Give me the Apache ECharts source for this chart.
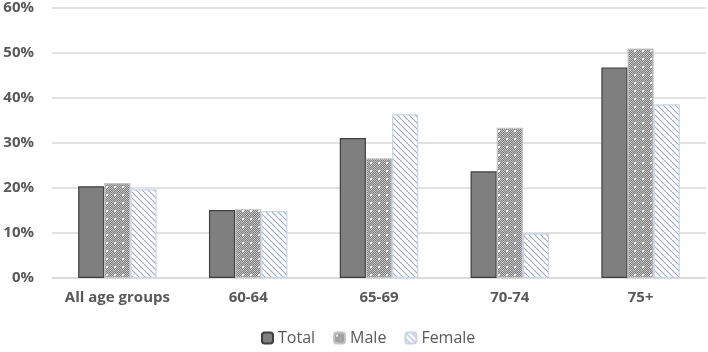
<!DOCTYPE html>
<html>
<head>
<meta charset="utf-8">
<script src="https://cdn.jsdelivr.net/npm/echarts@6/dist/echarts.min.js"></script>
<style>
    html, body { margin: 0; padding: 0; background: #fff; }
    #ageCharts { width: 708px; height: 352px; }
</style>
</head>
<body>
<div id="ageCharts"></div>
<script>
    // 数据
    const categories = ['All age groups', '60-64', '65-69', '70-74', '75+']
    const totalData = [20.4, 15.1, 31.1, 23.7, 46.8]
    const maleData = [21.1, 15.3, 26.6, 33.4, 51.0]
    const femaleData = [19.7, 14.9, 36.4, 9.9, 38.6]
    const yTicks = [0, 10, 20, 30, 40, 50, 60]

    // 斑点纹理
    function malePattern() {
        const c = document.createElement('canvas')
        c.width = 8
        c.height = 8
        const ctx = c.getContext('2d')
        ctx.fillStyle = '#7c7c7c'
        ctx.fillRect(0, 0, 8, 8)
        ctx.fillStyle = '#c6c6c6'
        for (let y = 0; y < 8; y++) {
            for (let x = 0; x < 8; x++) {
                if ((x + y) % 2 === 0) ctx.fillRect(x, y, 1, 1)
            }
        }
        ctx.fillStyle = '#ffffff'
        ctx.fillRect(2, 2, 2, 2)
        ctx.fillRect(6, 6, 1, 1)
        return c
    }

    // 斜线纹理
    function femalePattern() {
        const s = 6
        const c = document.createElement('canvas')
        c.width = s
        c.height = s
        const ctx = c.getContext('2d')
        ctx.fillStyle = '#ffffff'
        ctx.fillRect(0, 0, s, s)
        ctx.strokeStyle = '#9eacc2'
        ctx.lineWidth = 1.2
        for (let o = -s; o <= s; o += s) {
            ctx.beginPath()
            ctx.moveTo(o, 0)
            ctx.lineTo(o + s, s)
            ctx.stroke()
        }
        return c
    }

    const labelStyle = {
        color: '#595959',
        fontSize: 15,
        fontWeight: 'bold',
        fontFamily: 'Open Sans'
    }

    const option = {
        animation: false,
        grid: {
            left: 52,
            right: 2,
            top: 8,
            bottom: 74
        },
        legend: {
            bottom: 1,
            left: 256,
            itemWidth: 11,
            itemHeight: 11,
            itemGap: 18,
            textStyle: {
                color: '#595959',
                fontSize: 16,
                fontFamily: 'Open Sans'
            },
            data: ['Total', 'Male', 'Female']
        },
        xAxis: {
            type: 'category',
            data: categories,
            axisTick: { show: false },
            axisLine: { lineStyle: { color: '#d9d9d9', width: 1.5 } },
            axisLabel: Object.assign({ margin: 12, interval: 0 }, labelStyle)
        },
        yAxis: {
            type: 'value',
            min: yTicks[0],
            max: yTicks[yTicks.length - 1],
            interval: 10,
            axisLine: { show: false },
            axisTick: { show: false },
            splitLine: { lineStyle: { color: '#d9d9d9', width: 1.5 } },
            axisLabel: Object.assign({ margin: 18, formatter: '{value}%' }, labelStyle)
        },
        series: [
            {
                name: 'Total',
                type: 'bar',
                data: totalData,
                barGap: '0%',
                barCategoryGap: '40%',
                itemStyle: {
                    color: '#7f7f7f',
                    borderColor: '#3f3f3f',
                    borderWidth: 1.2
                }
            },
            {
                name: 'Male',
                type: 'bar',
                data: maleData,
                barGap: '0%',
                barCategoryGap: '40%',
                itemStyle: {
                    color: { image: malePattern(), repeat: 'repeat' },
                    borderColor: '#c4c4c4',
                    borderWidth: 1.2
                }
            },
            {
                name: 'Female',
                type: 'bar',
                data: femaleData,
                barGap: '0%',
                barCategoryGap: '40%',
                itemStyle: {
                    color: { image: femalePattern(), repeat: 'repeat' },
                    borderColor: '#c6d4ec',
                    borderWidth: 1.2
                }
            }
        ]
    }

    const ageCharts = echarts.init(document.getElementById('ageCharts'))
    ageCharts.setOption(option)
    window.addEventListener('resize', () => ageCharts.resize())
</script>
</body>
</html>
